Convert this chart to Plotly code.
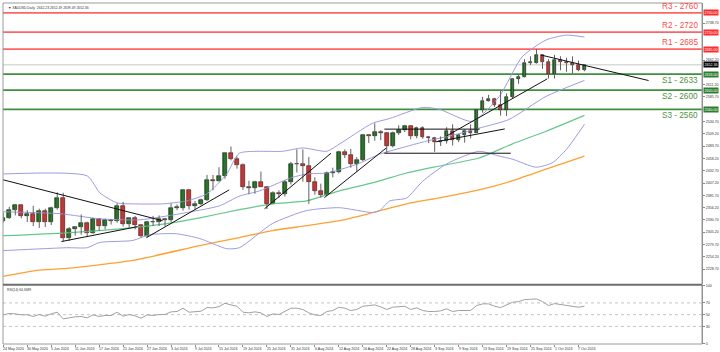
import plotly.graph_objects as go

# ---------------- data ----------------
dates = ["24 May 2024","27 May 2024","28 May 2024","29 May 2024","30 May 2024","31 May 2024",
         "3 Jun 2024","4 Jun 2024","5 Jun 2024","6 Jun 2024","7 Jun 2024",
         "10 Jun 2024","11 Jun 2024","12 Jun 2024","13 Jun 2024","14 Jun 2024",
         "17 Jun 2024","18 Jun 2024","19 Jun 2024","20 Jun 2024","21 Jun 2024",
         "24 Jun 2024","25 Jun 2024","26 Jun 2024","27 Jun 2024","28 Jun 2024",
         "1 Jul 2024","2 Jul 2024","3 Jul 2024","4 Jul 2024","5 Jul 2024",
         "8 Jul 2024","9 Jul 2024","10 Jul 2024","11 Jul 2024","12 Jul 2024",
         "15 Jul 2024","16 Jul 2024","17 Jul 2024","18 Jul 2024","19 Jul 2024",
         "22 Jul 2024","23 Jul 2024","24 Jul 2024","25 Jul 2024","26 Jul 2024",
         "29 Jul 2024","30 Jul 2024","31 Jul 2024","1 Aug 2024","2 Aug 2024",
         "5 Aug 2024","6 Aug 2024","7 Aug 2024","8 Aug 2024","9 Aug 2024",
         "12 Aug 2024","13 Aug 2024","14 Aug 2024","15 Aug 2024","16 Aug 2024",
         "19 Aug 2024","20 Aug 2024","21 Aug 2024","22 Aug 2024","23 Aug 2024",
         "26 Aug 2024","27 Aug 2024","28 Aug 2024","29 Aug 2024","30 Aug 2024",
         "2 Sep 2024","3 Sep 2024","4 Sep 2024","5 Sep 2024","6 Sep 2024",
         "9 Sep 2024","10 Sep 2024","11 Sep 2024","12 Sep 2024","13 Sep 2024",
         "16 Sep 2024","17 Sep 2024","18 Sep 2024","19 Sep 2024","20 Sep 2024",
         "23 Sep 2024","24 Sep 2024","25 Sep 2024","26 Sep 2024","27 Sep 2024",
         "30 Sep 2024","1 Oct 2024","2 Oct 2024","3 Oct 2024","4 Oct 2024",
         "7 Oct 2024","8 Oct 2024"]

opens = [2329,2334,2351,2361,2338,2343,2327,2350,2327,2355,2376,2294,2311,2316,2324,2303,
         2333,2319,2330,2328,2360,2322,2334,2320,2298,2327,2326,2332,2330,2356,2356,2392,
         2359,2364,2371,2414,2411,2422,2469,2458,2445,2400,2396,2409,2398,2364,2387,2384,
         2410,2447,2446,2443,2410,2390,2382,2427,2431,2472,2465,2447,2456,2507,2504,2514,
         2512,2484,2512,2518,2525,2504,2521,2503,2500,2493,2495,2516,2497,2506,2516,2512,
         2558,2578,2582,2569,2559,2586,2622,2628,2657,2657,2672,2658,2634,2662,2659,2656,
         2653,2642]
highs = [2346,2358,2364,2362,2351,2360,2354,2354,2358,2388,2387,2316,2318,2342,2327,2335,
         2334,2333,2332,2365,2368,2335,2339,2321,2329,2339,2340,2335,2365,2363,2392,2393,
         2370,2375,2424,2424,2440,2469,2483,2462,2448,2412,2412,2431,2400,2390,2392,2413,
         2451,2477,2477,2461,2419,2406,2431,2439,2474,2477,2478,2461,2509,2509,2531,2517,
         2513,2514,2527,2528,2526,2524,2525,2504,2503,2504,2523,2529,2509,2518,2529,2560,
         2586,2590,2584,2600,2593,2625,2632,2664,2670,2685,2674,2664,2673,2670,2667,2670,
         2661,2652]
lows = [2325,2333,2340,2334,2326,2318,2314,2316,2320,2352,2286,2287,2298,2300,2295,2302,
        2308,2311,2321,2325,2317,2315,2311,2294,2294,2318,2318,2318,2326,2351,2350,2352,
        2352,2361,2370,2392,2410,2416,2454,2437,2393,2384,2385,2405,2353,2364,2376,2379,
        2404,2429,2410,2364,2383,2377,2381,2419,2427,2459,2439,2431,2453,2490,2495,2496,
        2470,2481,2507,2513,2498,2500,2499,2490,2472,2484,2489,2485,2492,2491,2500,2511,
        2553,2576,2565,2547,2546,2582,2613,2626,2652,2655,2644,2624,2624,2641,2638,2634,
        2639,2639]
closes = [2334,2351,2361,2338,2343,2327,2350,2327,2355,2376,2294,2311,2316,2324,2303,2333,
          2319,2330,2328,2360,2322,2334,2320,2298,2327,2326,2332,2330,2356,2356,2392,2359,
          2364,2371,2414,2411,2422,2469,2458,2445,2400,2396,2409,2398,2364,2387,2384,2410,
          2447,2446,2443,2410,2390,2382,2427,2431,2472,2465,2447,2456,2507,2504,2514,2512,
          2484,2512,2518,2525,2504,2521,2503,2500,2493,2495,2516,2497,2506,2516,2512,2558,
          2578,2582,2569,2559,2586,2622,2628,2657,2657,2672,2658,2634,2662,2659,2656,2653,
          2642,2652]

rsi_values = [49.8,52.0,51.4,49.7,50.0,46.9,50.3,47.4,51.4,54.2,42.9,45.2,46.3,46.9,44.6,49.7,
              46.9,48.6,48.6,54.2,47.4,50.3,48.0,44.0,49.7,48.6,50.3,50.3,54.8,55.4,61.0,54.2,
              55.4,55.9,62.1,61.6,63.8,69.5,66.7,64.4,54.2,53.1,54.8,53.1,46.9,51.4,50.3,55.9,
              61.0,61.0,58.8,53.1,49.7,48.6,55.4,57.1,62.7,61.0,57.1,58.8,64.4,65.5,66.7,63.3,
              58.8,62.7,63.8,64.4,58.8,61.6,57.1,55.4,55.4,56.5,59.9,55.4,57.1,57.7,57.1,65.5,
              68.4,68.4,64.4,62.1,66.7,71.2,72.3,75.7,76.3,76.8,72.3,65.5,68.9,67.2,66.7,65.0,
              62.7,64.4]

# indicator lines (bar index, price)
ma_slow_x = [0, 5.6, 10.6, 21.6, 32.8, 39.4, 44.9, 50.6, 56.1, 61.6, 67.3, 72.8, 79.4, 84.9, 90.6, 97]
ma_slow_y = [2213.6, 2226, 2230, 2246.6, 2277.5, 2294, 2308.5, 2318.8, 2329, 2345.6, 2364, 2376.5, 2393, 2411.5, 2436, 2463]
ma_mid_x = [0, 10.6, 21.6, 27.3, 32.8, 39.4, 44.9, 50.6, 56.1, 61.6, 67.3, 72.8, 79.4, 84.9, 90.6, 97]
ma_mid_y = [2298, 2304, 2314.6, 2323, 2335, 2352, 2364, 2370, 2391, 2407.4, 2428, 2442.5, 2459, 2488, 2514.6, 2547.6]
bb_up_x = [0, 14, 16.1, 19, 21.6, 26.6, 30.6, 34, 37.3, 39.4, 46.6, 50, 54, 56.1, 61.6, 64.5, 70, 72.8, 78.3, 82.8, 86.6, 90.6, 94, 97]
bb_up_y = [2426, 2422, 2387, 2366, 2364, 2364, 2370, 2385, 2426, 2469, 2473, 2480, 2473, 2488, 2531, 2541, 2564, 2560, 2535, 2587, 2669, 2704, 2714, 2710]
bb_mid_x = [0, 9.5, 16.1, 22.8, 29.5, 36.1, 39.4, 42.8, 47.8, 50.6, 54, 59, 62.8, 67.3, 70.6, 75.6, 79.4, 84.4, 90.6, 97]
bb_mid_y = [2347.6, 2343.5, 2333, 2331, 2343.5, 2360, 2380, 2391, 2417, 2426, 2428, 2446, 2467, 2483, 2494, 2508, 2521, 2539, 2587, 2620]
bb_lo_x = [0, 10.6, 14, 16.1, 21.6, 24.4, 28.9, 32.8, 37.3, 39.4, 44.9, 50.6, 56.1, 61.6, 62.8, 64.5, 67.3, 70, 74, 79.4, 82.8, 84.9, 88.9, 91.6, 94, 97]
bb_lo_y = [2267, 2273, 2273, 2284, 2288, 2300, 2302, 2292, 2271, 2273, 2323, 2350, 2356, 2346, 2350, 2370, 2376, 2411, 2447, 2473, 2463, 2457, 2440, 2449, 2477, 2529]

# trend lines (start bar, start price, end bar, end price)
trend_x0 = [-0.6, 9.7, 23.9, 43.6, 53.6, 63.6, 63.6, 72.2, 74.0, 89.7]
trend_p0 = [2415.7, 2285.8, 2294.0, 2353.8, 2377.0, 2469.0, 2519.0, 2492.6, 2505.0, 2672.8]
trend_x1 = [26.6, 22.4, 37.7, 54.7, 63.9, 84.7, 79.5, 83.7, 90.8, 107.7]
trend_p1 = [2329.0, 2316.7, 2393.0, 2469.0, 2479.6, 2469.0, 2519.0, 2519.4, 2623.3, 2619.8]

level_names = ["R3", "R2", "R1", "S1", "S2", "S3"]
level_values = [2760, 2720, 2685, 2633, 2600, 2560]
current_price = 2652.36
header_text = "\u25bc XAUUSD,Daily  2642.23 2652.49 2639.49 2652.36"
rsi_label = "RSI(14) 64.3689"
price_ticks = [2228.70, 2254.20, 2279.70, 2305.20, 2330.70, 2356.20, 2381.70, 2407.20, 2432.70,
               2458.20, 2483.70, 2509.20, 2534.70, 2560.20, 2585.70, 2611.20, 2636.70, 2662.20,
               2687.70, 2713.20, 2738.70]
rsi_ticks = [0, 30, 50, 70, 100]

# ---------------- figure ----------------
FONT = "Liberation Sans, Arial, sans-serif"
SMALL = 3.6
fig = go.Figure()

n = len(closes)
idx = list(range(n))

# RSI gridlines
for lv in [30, 50, 70]:
    fig.add_shape(type="line", xref="x domain", yref="y2", x0=0, x1=1, y0=lv, y1=lv,
                  line=dict(color="#c4c4c4", width=1, dash="dot"), layer="below")

# level lines
for name, val in zip(level_names, level_values):
    col = "#ff6464" if name.startswith("R") else "#3f8f3f"
    fig.add_shape(type="line", xref="x domain", yref="y", x0=0, x1=1, y0=val, y1=val,
                  line=dict(color=col, width=1.8), layer="below")
# bid line
fig.add_shape(type="line", xref="x domain", yref="y", x0=0, x1=1, y0=current_price, y1=current_price,
              line=dict(color="#c8c8c8", width=1), layer="below")

def line_trace(xs, ys, color, yaxis="y", width=1.0):
    return go.Scatter(x=xs, y=ys, mode="lines", line=dict(color=color, width=width, shape="spline", smoothing=0.6),
                      yaxis=yaxis, hoverinfo="skip", showlegend=False)

fig.add_trace(line_trace(ma_slow_x, ma_slow_y, "#ffa033", width=1.3))
fig.add_trace(line_trace(ma_mid_x, ma_mid_y, "#66c78c", width=1.2))
fig.add_trace(line_trace(bb_up_x, bb_up_y, "#9c9ce0"))
fig.add_trace(line_trace(bb_mid_x, bb_mid_y, "#9c9ce0"))
fig.add_trace(line_trace(bb_lo_x, bb_lo_y, "#9c9ce0"))

# wicks
wx, wy = [], []
for i in idx:
    wx += [i, i, None]
    wy += [lows[i], highs[i], None]
fig.add_trace(go.Scatter(x=wx, y=wy, mode="lines", line=dict(color="#606060", width=1),
                         hoverinfo="skip", showlegend=False))

# bodies
base = [min(o, c) for o, c in zip(opens, closes)]
height = [max(abs(c - o), 1.2) for o, c in zip(opens, closes)]
colors = ["#0b7a0b" if c >= o else "#ff1f1f" for o, c in zip(opens, closes)]
fig.add_trace(go.Bar(x=idx, y=height, base=base, width=0.6, marker=dict(color=colors, line=dict(color="#1a1a1a", width=0.6)),
                     hoverinfo="skip", showlegend=False))

# trend lines
tx, ty = [], []
for a, b, c, d in zip(trend_x0, trend_p0, trend_x1, trend_p1):
    tx += [a, c, None]
    ty += [b, d, None]
fig.add_trace(go.Scatter(x=tx, y=ty, mode="lines", line=dict(color="#111111", width=1),
                         hoverinfo="skip", showlegend=False))

# RSI
fig.add_trace(go.Scatter(x=idx, y=rsi_values, mode="lines", line=dict(color="#a0a0a0", width=1),
                         yaxis="y2", hoverinfo="skip", showlegend=False))

annotations = []
# level text labels and axis boxes
for name, val in zip(level_names, level_values):
    is_r = name.startswith("R")
    col = "#ff4a4a" if is_r else "#4f8f3f"
    annotations.append(dict(x=0.997, xref="paper", y=val, yref="y", text=f"{name} - {val}",
                            showarrow=False, xanchor="right",
                            yanchor="bottom" if is_r else "top",
                            font=dict(family=FONT, size=8.2, color=col)))
    annotations.append(dict(x=1, xref="paper", y=val, yref="y", text=f"{val:.2f}", showarrow=False,
                            xanchor="left", yanchor="middle", xshift=1,
                            bgcolor="#ff2d2d" if is_r else "#2e7d2e",
                            borderpad=0.5, font=dict(family=FONT, size=SMALL, color="white")))
annotations.append(dict(x=1, xref="paper", y=current_price, yref="y", text=f"{current_price:.2f}", showarrow=False,
                        xanchor="left", yanchor="middle", xshift=1, bgcolor="#000000", borderpad=0.5,
                        font=dict(family=FONT, size=SMALL, color="white")))
# header texts
annotations.append(dict(x=0, xref="paper", y=1, yref="paper", text=header_text, showarrow=False,
                        xanchor="left", yanchor="top", xshift=3, yshift=-1,
                        font=dict(family=FONT, size=3.4, color="#333333")))
annotations.append(dict(x=0, xref="paper", y=0.172, yref="paper", text=rsi_label, showarrow=False,
                        xanchor="left", yanchor="top", xshift=2, yshift=-1,
                        font=dict(family=FONT, size=3.3, color="#333333")))
# date labels
for i in range(0, n, 4):
    annotations.append(dict(x=i, xref="x", y=0, yref="paper", text=dates[i], showarrow=False,
                            xanchor="left", yanchor="top", xshift=-2, yshift=-1,
                            font=dict(family=FONT, size=SMALL, color="#333333")))

# price tick labels hidden behind the coloured boxes (as on the terminal)
box_levels = level_values + [current_price]
shown_ticks = [t for t in price_ticks if min(abs(t - b) for b in box_levels) > 9]

# frames
fig.add_shape(type="rect", xref="paper", yref="paper", x0=0, x1=1, y0=0, y1=1,
              line=dict(color="#9a9a9a", width=1))
fig.add_shape(type="line", xref="paper", yref="paper", x0=0, x1=1, y0=0.1735, y1=0.1735,
              line=dict(color="#6e6e6e", width=2))

fig.update_layout(
    width=720, height=352,
    margin=dict(l=3, r=17, t=1, b=8),
    paper_bgcolor="white", plot_bgcolor="white",
    showlegend=False, bargap=0,
    font=dict(family=FONT, size=SMALL, color="#333333"),
    xaxis=dict(range=[-0.05, 116.62], anchor="y2", showgrid=False, zeroline=False,
               showticklabels=False, ticks="outside", ticklen=2, tickcolor="#888888",
               tickvals=list(range(0, n, 4)), showline=False),
    yaxis=dict(domain=[0.175, 1], range=[2197.1, 2780.6], side="right", anchor="x",
               showgrid=False, zeroline=False, tickvals=shown_ticks,
               ticktext=[f"{v:.2f}" for v in shown_ticks], ticks="outside", ticklen=2,
               tickcolor="#888888", tickfont=dict(size=SMALL, color="#333333"), showline=True,
               linecolor="#8a8a8a", linewidth=1),
    yaxis2=dict(domain=[0, 0.172], range=[0, 100], side="right", anchor="x",
                showgrid=False, zeroline=False, tickvals=rsi_ticks,
                ticktext=[str(v) for v in rsi_ticks], ticks="outside", ticklen=2,
                tickcolor="#888888", tickfont=dict(size=SMALL, color="#333333"), showline=True,
                linecolor="#8a8a8a", linewidth=1),
    annotations=annotations,
)

fig.write_html("out.html")
